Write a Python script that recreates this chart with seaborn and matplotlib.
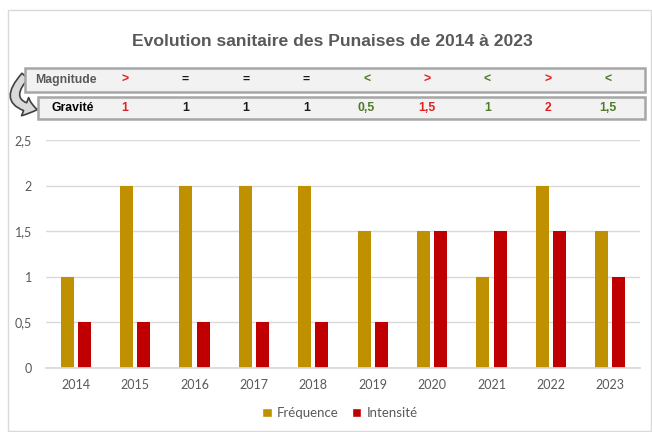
import matplotlib
matplotlib.use("Agg")
import matplotlib.pyplot as plt
import seaborn as sns
import pandas as pd
from matplotlib.patches import Rectangle, FancyArrowPatch, Patch

years = ["2014", "2015", "2016", "2017", "2018", "2019", "2020", "2021", "2022", "2023"]
frequence = [1, 2, 2, 2, 2, 1.5, 1.5, 1, 2, 1.5]
intensite = [0.5, 0.5, 0.5, 0.5, 0.5, 0.5, 1.5, 1.5, 1.5, 1]
magnitude = [">", "=", "=", "=", "<", ">", "<", ">", "<"]
gravite = ["1", "1", "1", "1", "0,5", "1,5", "1", "2", "1,5"]
yticks = [0, 0.5, 1, 1.5, 2, 2.5]
ytick_labels = ["0", "0,5", "1", "1,5", "2", "2,5"]

sym_colors = {">": "#E02020", "=": "#1a1a1a", "<": "#4F7A28"}

sns.set_theme(style="white")
plt.rcParams["font.family"] = ["Lato", "DejaVu Sans"]

df = pd.DataFrame({
    "year": years * 2,
    "value": frequence + intensite,
    "serie": ["Fréquence"] * len(years) + ["Intensité"] * len(years),
})

W, H = 652, 432
fig = plt.figure(figsize=(W / 100, H / 100), dpi=100)

def fx(px):
    return px / W

def fy(py):
    return 1 - py / H

ax = fig.add_axes([fx(46), fy(368), fx(640) - fx(46), fy(140) - fy(368)])
sns.barplot(data=df, x="year", y="value", hue="serie",
            palette={"Fréquence": "#BF9000", "Intensité": "#C00000"},
            width=0.58, gap=0.25, ax=ax, legend=False, saturation=1, linewidth=0)
ax.set_ylim(0, 2.5)
ax.set_xlim(-0.5, 9.5)
ax.set_yticks(yticks)
ax.set_yticklabels(ytick_labels)
ax.set_xlabel("")
ax.set_ylabel("")
ax.yaxis.grid(True, color="#D9D9D9", linewidth=1)
ax.set_axisbelow(True)
for s in ["top", "right", "left"]:
    ax.spines[s].set_visible(False)
ax.spines["bottom"].set_color("#D9D9D9")
ax.tick_params(axis="both", length=0, colors="#595959", labelsize=9)
ax.tick_params(axis="y", pad=10)
ax.tick_params(axis="x", pad=8)

# chart frame
fig.patches.append(Rectangle((fx(8), fy(431)), fx(651) - fx(8), fy(10) - fy(431),
                             transform=fig.transFigure, fill=False,
                             edgecolor="#D9D9D9", linewidth=1))

# title
fig.text(fx(332), fy(42), "Evolution sanitaire des Punaises de 2014 à 2023",
         ha="center", va="center", fontsize=12.6, fontweight="bold",
         color="#595959", family=["Liberation Sans", "DejaVu Sans"])

# curved arrow (behind boxes)
arr = FancyArrowPatch((fx(27), fy(74)), (fx(40), fy(110)), transform=fig.transFigure,
                      connectionstyle="arc3,rad=1.0",
                      arrowstyle="simple,head_width=14,head_length=9,tail_width=6",
                      facecolor="#D9D9D9", edgecolor="#404040", linewidth=1.2)
fig.patches.append(arr)

# header boxes
for (x0, y0, x1, y1) in [(25, 68, 645, 92), (38, 97, 645, 119)]:
    fig.patches.append(Rectangle((fx(x0), fy(y1)), fx(x1) - fx(x0), fy(y0) - fy(y1),
                                 transform=fig.transFigure, facecolor="#F2F2F2",
                                 edgecolor="#A6A6A6", linewidth=1.8))
fig.text(fx(35), fy(80), "Magnitude", ha="left", va="center", fontsize=8.8,
         fontweight="bold", color="#595959", family=["Liberation Sans", "DejaVu Sans"])
fig.text(fx(51), fy(108), "Gravité", ha="left", va="center", fontsize=8.8,
         fontweight="bold", color="#000000", family=["Liberation Sans", "DejaVu Sans"])

for i, (m, g) in enumerate(zip(magnitude, gravite)):
    px = 125 + i * 60.4
    c = sym_colors[m]
    fig.text(fx(px), fy(80), m, ha="center", va="center", fontsize=8.8,
             fontweight="bold", color=c, family=["Liberation Sans", "DejaVu Sans"])
    fig.text(fx(px), fy(108), g, ha="center", va="center", fontsize=8.8,
             fontweight="bold", color=c, family=["Liberation Sans", "DejaVu Sans"])

# legend
handles = [Patch(facecolor="#BF9000", label="Fréquence"),
           Patch(facecolor="#C00000", label="Intensité")]
fig.legend(handles=handles, loc="center", bbox_to_anchor=(fx(340), fy(413)),
           ncol=2, frameon=False, fontsize=9.5, handlelength=0.7, handleheight=0.7,
           handletextpad=0.4, columnspacing=1.0, labelcolor="#595959")

fig.savefig("out.png", dpi=100)
